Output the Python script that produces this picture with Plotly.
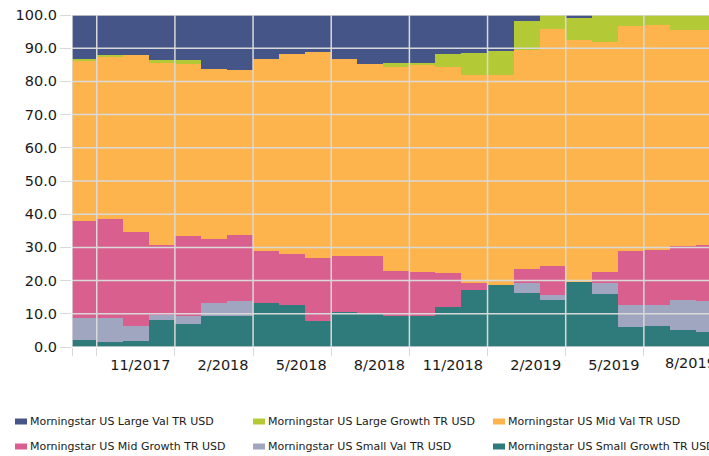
import numpy as np
import plotly.graph_objects as go

# ---- data -------------------------------------------------------------
months = ["8/2017", "9/2017", "10/2017", "11/2017", "12/2017", "1/2018",
          "2/2018", "3/2018", "4/2018", "5/2018", "6/2018", "7/2018",
          "8/2018", "9/2018", "10/2018", "11/2018", "12/2018", "1/2019",
          "2/2019", "3/2019", "4/2019", "5/2019", "6/2019", "7/2019",
          "8/2019"]

small_growth = [2.0, 1.5, 1.8, 8.2, 6.8, 9.2, 9.2, 13.4, 12.7, 7.7, 10.6, 9.8,
                9.3, 9.3, 12.1, 17.2, 18.7, 16.2, 14.1, 19.7, 16.0, 6.1, 6.3, 5.1, 4.5]
small_val = [6.8, 7.3, 4.5, 1.3, 2.4, 4.1, 4.7, 0.0, 0.0, 0.0, 0.0, 0.0,
             0.0, 0.0, 0.0, 0.0, 0.0, 3.2, 1.6, 0.0, 3.4, 6.7, 6.5, 9.0, 9.3]
mid_growth = [29.2, 29.9, 28.4, 21.2, 24.2, 19.2, 19.9, 15.4, 15.4, 19.2, 16.7, 17.5,
              13.6, 13.4, 10.3, 2.0, 0.0, 4.1, 8.7, 0.0, 3.3, 16.2, 16.5, 16.2, 17.0]
mid_val = [48.2, 48.8, 53.3, 54.8, 51.8, 51.2, 49.6, 57.9, 60.1, 62.1, 59.4, 57.9,
           61.4, 62.1, 61.9, 62.7, 63.2, 66.1, 71.4, 72.7, 69.2, 67.8, 67.7, 65.3, 64.7]
large_growth = [0.6, 0.5, 0.0, 1.0, 1.1, 0.0, 0.0, 0.0, 0.0, 0.0, 0.0, 0.0,
                1.2, 0.7, 4.1, 6.7, 7.3, 8.6, 4.2, 6.8, 8.1, 3.2, 3.0, 4.4, 4.5]
large_val = [13.2, 12.0, 12.0, 13.5, 13.7, 16.3, 16.6, 13.3, 11.8, 11.0, 13.3, 14.8,
             14.5, 14.5, 11.6, 11.4, 10.8, 1.8, 0.0, 0.8, 0.0, 0.0, 0.0, 0.0, 0.0]

series_names = ["Morningstar US Small Growth TR USD", "Morningstar US Small Val TR USD",
                "Morningstar US Mid Growth TR USD", "Morningstar US Mid Val TR USD",
                "Morningstar US Large Growth TR USD", "Morningstar US Large Val TR USD"]
series_values = [small_growth, small_val, mid_growth, mid_val, large_growth, large_val]
series_colors = ["#2f7b7c", "#a0a5c0", "#d95f8e", "#fdb44c", "#b4c936", "#465587"]

legend_order = [5, 4, 3, 2, 1, 0]   # row-wise as in the reference legend

y_ticks = [0, 10, 20, 30, 40, 50, 60, 70, 80, 90, 100]

# ---- figure -----------------------------------------------------------
FONT = "DejaVu Sans"
TXT = "#1a1a1a"
GRID = "#d9d9d9"
W, H = 709, 456
ML, MR, MT, MB = 72, 0, 15, 109
x0, x1 = 0.05, 24.5
LBL_SHIFT = -4

centers = np.arange(len(months)) + 0.5

fig = go.Figure()
for name, vals, col in zip(series_names, series_values, series_colors):
    fig.add_trace(go.Bar(x=centers, y=vals, width=1.0, name=name,
                         marker=dict(color=col, line=dict(width=0)),
                         showlegend=False, hoverinfo="skip"))

# x ticks at month boundaries, every third month
tick_idx = list(range(0, len(months), 3))
tickvals = [x0] + [i + 1 for i in tick_idx if i + 1 < x1]
ticktext = [""] + [("" if i == 0 else months[i]) for i in tick_idx if i + 1 < x1]

fig.update_layout(
    width=W, height=H,
    margin=dict(l=ML, r=MR, t=MT, b=MB, pad=0),
    paper_bgcolor="white", plot_bgcolor="white",
    barmode="stack", bargap=0,
    font=dict(family=FONT, size=14.5, color=TXT),
    xaxis=dict(range=[x0, x1], tickmode="array", tickvals=tickvals, ticktext=ticktext,
               showgrid=False, zeroline=False, showline=False,
               ticks="outside", ticklen=8, tickcolor=GRID, tickwidth=1,
               ticklabelposition="outside left", ticklabelshift=LBL_SHIFT,
               ticklabelstandoff=5,
               tickfont=dict(family=FONT, size=14.5, color=TXT)),
    yaxis=dict(range=[0, 100], tickmode="array", tickvals=y_ticks,
               ticktext=[f"{v:.1f}" for v in y_ticks],
               showgrid=False, zeroline=False, showline=False,
               ticks="outside", ticklen=11, tickcolor=GRID, tickwidth=1,
               tickfont=dict(family=FONT, size=14.5, color=TXT)),
)

# grid lines drawn above the areas (as in the reference)
for v in tickvals:
    fig.add_shape(type="line", xref="x", yref="y", x0=v, x1=v, y0=0, y1=100,
                  line=dict(color=GRID, width=1.5), layer="above")
for v in y_ticks:
    fig.add_shape(type="line", xref="paper", yref="y", x0=0, x1=1, y0=v, y1=v,
                  line=dict(color=GRID, width=1.5), layer="above")

plot_w = W - ML - MR
plot_h = H - MT - MB

# partially visible last label (beyond the cropped right edge)
last_i = tick_idx[-1]
fig.add_annotation(xref="paper", yref="paper",
                   x=(last_i + 1 - x0) / (x1 - x0) + LBL_SHIFT / plot_w,
                   y=-(363.3 - (H - MB)) / plot_h,
                   xanchor="right", yanchor="middle",
                   text=months[last_i], showarrow=False,
                   font=dict(family=FONT, size=14.5, color=TXT))

# legend (three columns, two rows)
col_px = [15, 253, 493]
row_py = [421.5, 446.5]
for k, si in enumerate(legend_order):
    r, c = divmod(k, 3)
    sx = col_px[c]
    sy = row_py[r]
    fig.add_shape(type="rect", xref="paper", yref="paper",
                  x0=(sx - ML) / plot_w, x1=(sx + 12 - ML) / plot_w,
                  y0=(H - MB - (sy + 3)) / plot_h, y1=(H - MB - (sy - 3)) / plot_h,
                  fillcolor=series_colors[si], line=dict(width=0))
    fig.add_annotation(xref="paper", yref="paper",
                       x=(sx + 13 - ML) / plot_w, y=(H - MB - sy) / plot_h,
                       xanchor="left", yanchor="middle", showarrow=False,
                       text=series_names[si],
                       font=dict(family=FONT, size=11, color=TXT))

fig.write_html("out.html", config={"displayModeBar": False},
               post_script="document.body.style.margin='0';"
                           "document.body.style.overflow='hidden';")
